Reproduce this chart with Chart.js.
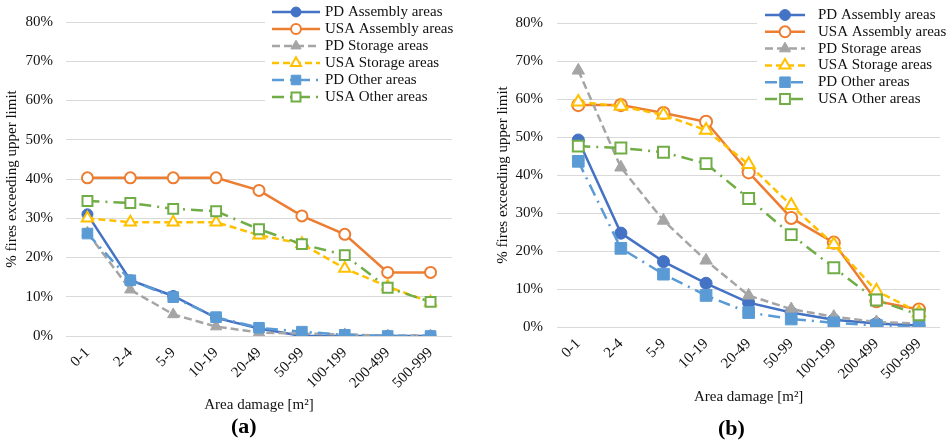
<!DOCTYPE html>
<html>
<head>
<meta charset="utf-8">
<script src="https://cdn.jsdelivr.net/npm/chart.js@4.4.0/dist/chart.umd.min.js"></script>
<style>
  body { margin: 0; background: #fff; }
  #wrap { position: relative; width: 950px; height: 445px; }
  .panel { position: absolute; top: 0; width: 475px; height: 445px; }
  .tag { position: absolute; font: bold 22px "Liberation Serif", serif; color: #000; }
</style>
</head>
<body>
<div id="wrap">
  <div class="panel" style="left:0"><canvas id="chartA" width="475" height="445"></canvas></div>
  <div class="panel" style="left:475px"><canvas id="chartB" width="475" height="445"></canvas></div>
  <div class="tag" style="left:231px; top:413px">(a)</div>
  <div class="tag" style="left:718px; top:415px">(b)</div>
</div>
<script>
const categories = ['0-1', '2-4', '5-9', '10-19', '20-49', '50-99', '100-199', '200-499', '500-999'];
const seriesNames = ['PD Assembly areas', 'USA Assembly areas', 'PD Storage areas', 'USA Storage areas', 'PD Other areas', 'USA Other areas'];
const yTicks = [0, 10, 20, 30, 40, 50, 60, 70, 80];

// panel (a)
const pdAssemblyA = [31, 14.2, 10.2, 4.6, 1.9, 0, 0, 0, 0];
const usaAssemblyA = [40.3, 40.3, 40.3, 40.3, 37.1, 30.6, 25.9, 16.2, 16.2];
const pdStorageA = [26.3, 11.8, 5.5, 2.4, 0.9, 0.6, 0.4, 0.1, 0.1];
const usaStorageA = [30, 29, 29, 29, 25.7, 23.5, 17.2, 12.6, 8.6];
const pdOtherA = [26.1, 14.2, 9.9, 4.8, 2.1, 1.1, 0.3, 0, 0];
const usaOtherA = [34.4, 33.9, 32.4, 31.8, 27.2, 23.4, 20.6, 12.3, 8.7];

// panel (b)
const pdAssemblyB = [49.2, 24.7, 17.2, 11.5, 6.4, 3.8, 1.9, 0.9, 0.4];
const usaAssemblyB = [58.4, 58.4, 56.3, 54, 40.7, 28.7, 22.2, 6.8, 4.6];
const pdStorageB = [67.5, 42, 28, 17.5, 8.3, 4.7, 2.7, 1.3, 0.9];
const usaStorageB = [59.2, 58.1, 55.8, 51.8, 42.8, 32, 21.7, 9.5, 3.8];
const pdOtherB = [43.6, 20.7, 13.9, 8.3, 3.8, 2.1, 1.1, 0.4, 0];
const usaOtherB = [47.6, 47.1, 46, 43, 33.8, 24.3, 15.6, 7.1, 3.2];

const FONT = '"Liberation Serif", "Times New Roman", serif';

// line/marker look per series (Excel palette)
const looks = [
  { color: '#4472C4', dash: [], point: 'circle', r: 5.5, fill: '#4472C4', bw: 1 },
  { color: '#ED7D31', dash: [], point: 'circle', r: 5.5, fill: '#fff', bw: 2 },
  { color: '#A5A5A5', dash: [8, 4], point: 'triangle', r: 6.5, fill: '#A5A5A5', bw: 1 },
  { color: '#FFC000', dash: [7, 4], point: 'triangle', r: 6.5, fill: '#fff', bw: 2 },
  { color: '#5B9BD5', dash: [12, 6, 2, 6], point: 'rect', r: 7.5, fill: '#5B9BD5', bw: 1 },
  { color: '#70AD47', dash: [12, 6, 2, 6], point: 'rect', r: 7, fill: '#fff', bw: 2 }
];

const sideLegend = {
  id: 'sideLegend',
  afterDatasetsDraw(chart, args, o) {
    const ctx = chart.ctx;
    ctx.save();
    ctx.fillStyle = '#fff';
    ctx.fillRect(o.boxX, 0, chart.width - o.boxX, o.boxH);
    chart.data.datasets.forEach((ds, i) => {
      const y = o.rowY + i * o.rowStep;
      ctx.strokeStyle = ds.borderColor;
      ctx.lineWidth = ds.borderWidth;
      ctx.setLineDash(ds.borderDash);
      ctx.beginPath();
      ctx.moveTo(o.lineX1, y);
      ctx.lineTo(o.lineX2, y);
      ctx.stroke();
      ctx.setLineDash([]);
      ctx.fillStyle = ds.pointBackgroundColor;
      ctx.strokeStyle = ds.pointBorderColor;
      ctx.lineWidth = ds.pointBorderWidth;
      Chart.helpers.drawPoint(ctx, {
        pointStyle: ds.pointStyle, radius: ds.pointRadius * 0.9,
        borderWidth: ds.pointBorderWidth, rotation: 0
      }, (o.lineX1 + o.lineX2) / 2, y);
      ctx.fillStyle = '#111';
      ctx.font = '15px ' + FONT;
      ctx.textBaseline = 'middle';
      ctx.textAlign = 'left';
      ctx.fillText(ds.label, o.textX, y);
    });
    ctx.restore();
  }
};

function makeChart(id, values, lay) {
  const datasets = values.map((arr, i) => {
    const l = looks[i];
    return {
      label: seriesNames[i],
      data: arr,
      borderColor: l.color,
      borderWidth: 2.5,
      borderDash: l.dash,
      pointStyle: l.point,
      pointRadius: l.r * lay.scale,
      pointBackgroundColor: l.fill,
      pointBorderColor: l.color,
      pointBorderWidth: l.bw,
      tension: 0,
      fill: false,
      // later series sit on top, as in the Excel original
      order: values.length - i
    };
  });

  new Chart(document.getElementById(id), {
    type: 'line',
    data: { labels: categories, datasets: datasets },
    options: {
      responsive: false,
      animation: false,
      devicePixelRatio: 1,
      layout: { padding: { left: 0, right: lay.right, top: 14, bottom: lay.bottom } },
      plugins: {
        legend: { display: false },
        tooltip: { enabled: false },
        sideLegend: lay.legend
      },
      scales: {
        x: {
          offset: true,
          grid: { display: false, drawTicks: false },
          border: { display: false },
          ticks: {
            color: '#111', font: { family: FONT, size: 15 },
            minRotation: 45, maxRotation: 45, padding: 8, autoSkip: false
          },
          title: {
            display: true, text: 'Area damage [m\u00B2]', color: '#111',
            font: { family: FONT, size: 15 }, padding: { top: 4, bottom: 4 }
          },
          afterFit(s) { s.height = lay.xHeight; }
        },
        y: {
          min: 0, max: 80,
          afterBuildTicks(s) { s.ticks = yTicks.map(v => ({ value: v })); },
          grid: { color: '#D9D9D9', lineWidth: 1, drawTicks: false },
          border: { display: false },
          ticks: {
            color: '#111', font: { family: FONT, size: 15 }, padding: lay.yPad,
            callback: v => v + '%'
          },
          title: {
            display: true, text: '% fires exceeding upper limit', color: '#111',
            font: { family: FONT, size: 15 }, padding: { top: lay.titlePad, bottom: 0 }
          },
          afterFit(s) { s.width = lay.yWidth; }
        }
      }
    },
    plugins: [sideLegend]
  });
}

makeChart('chartA', [pdAssemblyA, usaAssemblyA, pdStorageA, usaStorageA, pdOtherA, usaOtherA], {
  right: 23, bottom: 27, xHeight: 82, yWidth: 66, yPad: 13, titlePad: 3, scale: 1,
  legend: { boxX: 265, boxH: 106, lineX1: 272, lineX2: 320, textX: 325, rowY: 12, rowStep: 17 }
});

makeChart('chartB', [pdAssemblyB, usaAssemblyB, pdStorageB, usaStorageB, pdOtherB, usaOtherB], {
  right: 9, bottom: 35, xHeight: 83, yWidth: 82, yPad: 14, titlePad: 19, scale: 1.1,
  legend: { boxX: 282, boxH: 107, lineX1: 290, lineX2: 330, textX: 343, rowY: 15, rowStep: 16.8 }
});
</script>
</body>
</html>
